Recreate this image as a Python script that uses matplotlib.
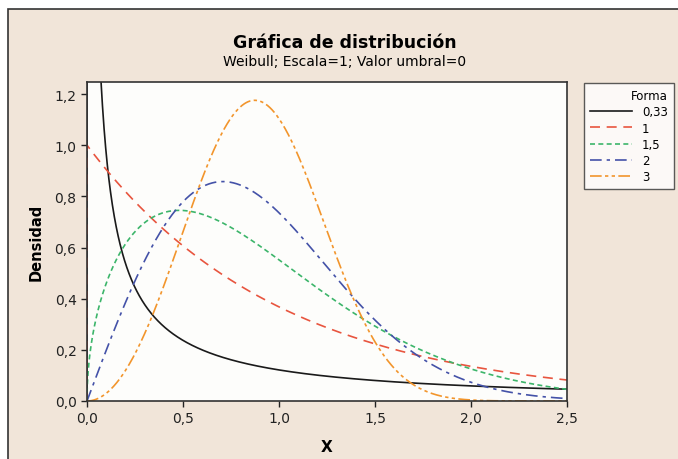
"""Weibull density plot (Minitab style), scale = 1, threshold = 0."""
import matplotlib
matplotlib.use("Agg")
import matplotlib.pyplot as plt
import numpy as np
from matplotlib.patches import Rectangle
from matplotlib.ticker import FuncFormatter

shapes = [0.33, 1, 1.5, 2, 3]
shape_labels = ["0,33", "1", "1,5", "2", "3"]
scale = 1.0
x_max = 2.5

colors = ["#1a1a1a", "#e8553f", "#3cb56a", "#4452a8", "#f2952c"]
dashes = [(None,), (6, 4), (3, 2), (7, 3, 2, 3), (7, 2, 2, 2, 2, 2)]

BG = "#f1e5d9"


def weibull_pdf(x, k, lam):
    z = x / lam
    return (k / lam) * z ** (k - 1) * np.exp(-z ** k)


fig = plt.figure(figsize=(6.78, 4.60), dpi=100)
fig.patch.set_facecolor("white")
fig.patches.append(Rectangle((8 / 678, -0.01), 1, 1.01 - 10 / 460, transform=fig.transFigure,
                             facecolor=BG, edgecolor="#333333", lw=1.2, zorder=-1))

ax = fig.add_axes([87 / 678, 58 / 460, 480 / 678, 319 / 460])
ax.set_facecolor("#fdfdfb")

xs = np.linspace(0.0005, x_max, 1500)
for k, lab, c, d in zip(shapes, shape_labels, colors, dashes):
    ys = weibull_pdf(xs, k, scale)
    # Minitab starts every curve at (0, 0)
    px = np.concatenate([[0.0], xs])
    py = np.concatenate([[0.0], ys])
    line, = ax.plot(px, py, color=c, lw=1.2, label=lab)
    if d[0] is not None:
        line.set_dashes(d)

ax.set_xlim(0, x_max)
ax.set_ylim(0, 1.247)
ax.set_xticks(np.arange(0, 2.51, 0.5))
ax.set_yticks(np.arange(0, 1.21, 0.2))
comma = FuncFormatter(lambda v, _: f"{v:.1f}".replace(".", ","))
ax.xaxis.set_major_formatter(comma)
ax.yaxis.set_major_formatter(comma)
ax.tick_params(direction="out", length=4, width=1, labelsize=10, colors="#222222")
for sp in ax.spines.values():
    sp.set_linewidth(1.2)
    sp.set_color("#333333")

ax.set_xlabel("X", fontsize=11, fontweight="bold", labelpad=10)
ax.set_ylabel("Densidad", fontsize=10.5, fontweight="bold", labelpad=8)

fig.text(345 / 678, 1 - 43 / 460, "Gráfica de distribución", ha="center", va="center",
         fontsize=12.5, fontweight="bold")
fig.text(345 / 678, 1 - 62 / 460, "Weibull; Escala=1; Valor umbral=0", ha="center",
         va="center", fontsize=10)

leg = fig.legend(loc="upper left", bbox_to_anchor=(584 / 678, 1 - 84 / 460),
                 title="Forma", fontsize=8.5, title_fontsize=8.5, frameon=True,
                 fancybox=False, edgecolor="#333333", handlelength=3.6,
                 handletextpad=0.8, labelspacing=0.28, borderpad=0.5,
                 borderaxespad=0, alignment="right")
leg.get_frame().set_linewidth(1.0)
leg.get_frame().set_facecolor("white")

fig.savefig("out.png", dpi=100, facecolor=fig.get_facecolor())
